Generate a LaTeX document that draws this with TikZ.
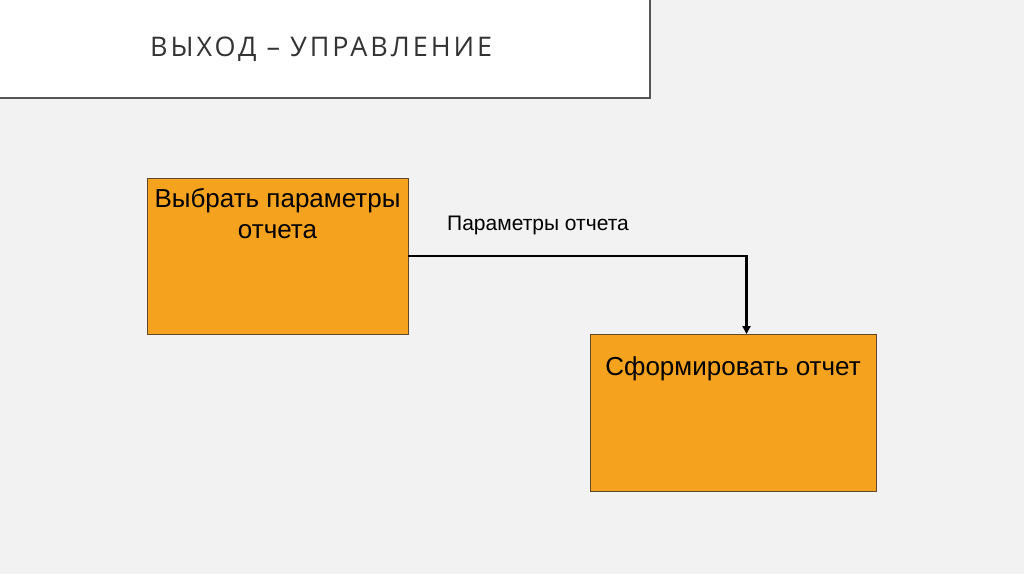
\documentclass[tikz,border=0pt]{standalone}
\usepackage{fontspec}
\setmainfont{Liberation Sans}
\newfontfamily\titlefont[LetterSpace=11]{Open Sans}
\usetikzlibrary{arrows.meta}
\definecolor{bg}{HTML}{F2F2F2}
\definecolor{boxfill}{HTML}{F5A31F}
\definecolor{boxline}{HTML}{5E4A2A}
\definecolor{titlecol}{HTML}{333333}
\definecolor{shadowcol}{HTML}{555555}
\tikzset{
  procbox/.style={draw=boxline, line width=0.8pt, fill=boxfill, inner sep=0pt, outer sep=0pt},
  boxtext/.style={font=\fontsize{26}{31}\selectfont, align=center, text=black, inner sep=0pt},
  flow/.style={draw=black, line width=2.2pt, -{Triangle[length=8pt,width=8pt]}},
}
\begin{document}
\begin{tikzpicture}[x=1pt,y=-1pt]
\useasboundingbox (0,0) rectangle (1024,574);
\fill[bg] (0,0) rectangle (1024,574);
% title panel
\fill[white] (-5,-5) rectangle (650,98);
\draw[shadowcol, line width=2.6pt] (650,-5) -- (650,98) -- (-5,98);
\node[anchor=base west, inner sep=0pt, text=titlecol, font=\titlefont\fontsize{27}{30}\selectfont] (title) at (150,56) {ВЫХОД – УПРАВЛЕНИЕ};
% boxes
\node[procbox, minimum width=261pt, minimum height=156pt] (b1) at (277.5,256) {};
\node[procbox, minimum width=286pt, minimum height=157pt] (b2) at (733,412.5) {};
\node[boxtext, anchor=base] (t1) at (277.5,238) {Выбрать параметры\\отчета};
\node[boxtext, anchor=base] (t2) at (733,375) {Сформировать отчет};
% connector
\coordinate (turn) at (746.5,256);
\draw[flow] (b1.east) -- (turn) -- (turn |- b2.north);
\node[anchor=base west, inner sep=0pt, font=\fontsize{21}{25}\selectfont] (lbl) at (447,230) {Параметры отчета};
\end{tikzpicture}
\end{document}
